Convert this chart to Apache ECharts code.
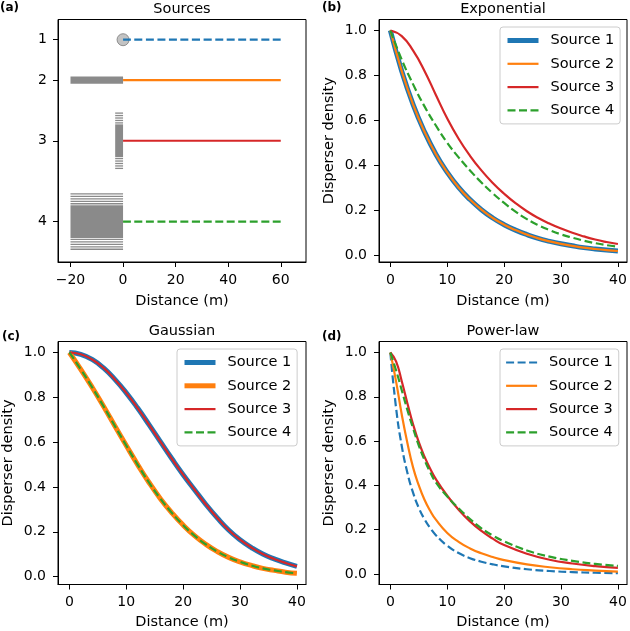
<!DOCTYPE html>
<html><head><meta charset="utf-8">
<script src="https://cdn.jsdelivr.net/npm/echarts@6/dist/echarts.min.js"></script>
<style>html,body{margin:0;padding:0;background:#fff}#c{width:630px;height:631px}</style>
</head><body><div id="c"></div>
<script>
// ---------- data ----------
const sourceLabels = ['1', '2', '3', '4'];
const sourceRows = [0, 1, 2.5, 4.5];
const dispersalLineX = [0, 60];
const sourceFootprintX = [[0, 0], [-20, 0], [-3, 0], [-20, 0]];
const sourceFootprintHalfH = [0, 0.09, 0.7, 0.7];
const sourcesXTicks = [-20, 0, 20, 40, 60];

const legendNames = ['Source 1', 'Source 2', 'Source 3', 'Source 4'];
const distTicks = [0, 10, 20, 30, 40];
const densityTicks = [0, 0.2, 0.4, 0.6, 0.8, 1.0];

const distGrid = [0, 2, 4, 6, 8, 10, 12, 14, 16, 18, 20, 22, 24, 26, 28, 30, 32, 34, 36, 38, 40];
const expS1 = [1, 0.819, 0.670, 0.549, 0.449, 0.368, 0.301, 0.247, 0.202, 0.165, 0.135, 0.111, 0.091, 0.074, 0.061, 0.050, 0.041, 0.033, 0.027, 0.022, 0.018];
const expS2 = [1, 0.819, 0.670, 0.549, 0.449, 0.368, 0.301, 0.247, 0.202, 0.165, 0.135, 0.111, 0.091, 0.074, 0.061, 0.050, 0.041, 0.033, 0.027, 0.022, 0.018];
const expS3 = [1, 0.975, 0.91, 0.82, 0.713, 0.608, 0.518, 0.442, 0.377, 0.321, 0.273, 0.231, 0.195, 0.165, 0.14, 0.118, 0.099, 0.083, 0.069, 0.058, 0.049];
const expS4 = [1, 0.87, 0.76, 0.662, 0.577, 0.5, 0.435, 0.377, 0.323, 0.275, 0.232, 0.193, 0.16, 0.133, 0.111, 0.092, 0.077, 0.064, 0.053, 0.044, 0.037];

const gauS1 = [1, 0.992, 0.969, 0.931, 0.88, 0.82, 0.752, 0.678, 0.602, 0.527, 0.455, 0.388, 0.322, 0.262, 0.208, 0.165, 0.13, 0.101, 0.079, 0.061, 0.046];
const gauS2 = [1, 0.925, 0.845, 0.76, 0.672, 0.585, 0.5, 0.42, 0.348, 0.285, 0.23, 0.183, 0.144, 0.112, 0.086, 0.066, 0.05, 0.037, 0.028, 0.02, 0.015];
const gauS3 = [1, 0.992, 0.969, 0.931, 0.88, 0.82, 0.752, 0.678, 0.602, 0.527, 0.455, 0.388, 0.322, 0.262, 0.208, 0.165, 0.13, 0.101, 0.079, 0.061, 0.046];
const gauS4 = [1, 0.925, 0.845, 0.76, 0.672, 0.585, 0.5, 0.42, 0.348, 0.285, 0.23, 0.183, 0.144, 0.112, 0.086, 0.066, 0.05, 0.037, 0.028, 0.02, 0.015];

const plDist = [0, 1, 2, 3, 4, 5, 6, 7, 8, 10, 12, 14, 16, 18, 20, 24, 28, 32, 36, 40];
const plS1 = [1, 0.75, 0.578, 0.456, 0.366, 0.298, 0.247, 0.207, 0.175, 0.127, 0.094, 0.071, 0.055, 0.043, 0.034, 0.021, 0.013, 0.008, 0.005, 0.003];
const plS2 = [1, 0.87, 0.72, 0.59, 0.48, 0.4, 0.335, 0.285, 0.245, 0.185, 0.145, 0.115, 0.093, 0.076, 0.062, 0.043, 0.03, 0.021, 0.015, 0.01];
const plS3 = [1, 0.96, 0.87, 0.77, 0.675, 0.595, 0.53, 0.475, 0.428, 0.353, 0.29, 0.237, 0.194, 0.159, 0.13, 0.091, 0.064, 0.047, 0.035, 0.027];
const plS4 = [1, 0.92, 0.83, 0.74, 0.657, 0.58, 0.515, 0.46, 0.413, 0.35, 0.296, 0.248, 0.206, 0.173, 0.147, 0.106, 0.078, 0.059, 0.045, 0.036];

// ---------- styling ----------
const FONT = 'DejaVu Sans';
const FS = 14.5, TICK_FS = 14;
const C = { blue: '#1f77b4', orange: '#ff7f0e', red: '#d62728', green: '#2ca02c', grey: '#8a8a8a' };
const DASH = [8, 3.5];
const TW = 2.2, THICK = 5;

function pairs(xs, ys) { return xs.map((x, i) => [x, ys[i]]); }
function minus(v) { return v < 0 ? '\u2212' + Math.abs(v) : String(v); }

const txt = { color: '#000', fontSize: TICK_FS, fontFamily: FONT };
const nameTxt = { color: '#000', fontSize: FS, fontFamily: FONT };

const gridDefs = [
  { left: 58, top: 19.5, width: 248, height: 242.5 },
  { left: 379, top: 19.5, width: 248, height: 242.5 },
  { left: 58, top: 341.5, width: 248, height: 243 },
  { left: 379, top: 341.5, width: 248, height: 243 }
].map(g => Object.assign({ show: true, borderColor: '#000', borderWidth: 1, backgroundColor: 'transparent', containLabel: false, outerBoundsMode: 'none' }, g));

function xAxisDef(gi, min, max, ticks, nameGap) {
  return {
    gridIndex: gi, type: 'value', min, max, splitLine: { show: false },
    axisLine: { show: true, onZero: false, lineStyle: { color: '#000', width: 1 } },
    axisTick: { show: true, length: 5, customValues: ticks, lineStyle: { color: '#000', width: 1 } },
    axisLabel: { customValues: ticks, formatter: minus, margin: 11, ...txt },
    name: 'Distance (m)', nameLocation: 'middle', nameGap, nameTextStyle: nameTxt
  };
}
function densityY(gi, min, max) {
  return {
    gridIndex: gi, type: 'value', min, max, splitLine: { show: false },
    axisLine: { show: true, onZero: false, lineStyle: { color: '#000', width: 1 } },
    axisTick: { show: true, length: 5, customValues: densityTicks, lineStyle: { color: '#000', width: 1 } },
    axisLabel: { customValues: densityTicks, formatter: v => Number(v).toFixed(1), margin: 12, ...txt },
    name: 'Disperser density', nameLocation: 'middle', nameGap: 42, nameRotate: 90, nameTextStyle: nameTxt
  };
}

function lineSeries(name, xs, ys, color, width, dashed, gi, z) {
  return {
    type: 'line', name, xAxisIndex: gi, yAxisIndex: gi, data: pairs(xs, ys),
    symbol: 'none', showSymbol: false, smooth: 0.5,
    lineStyle: { color, width, type: dashed ? DASH : 'solid', cap: 'butt', join: 'round' },
    itemStyle: { color }, z, silent: true
  };
}

function legendDef(tag, left, top, widths) {
  return {
    orient: 'vertical', left, top, selectedMode: false,
    data: legendNames.map((n, i) => ({ name: n + '|' + tag, lineStyle: { width: widths[i] } })),
    formatter: n => n.split('|')[0],
    itemWidth: 31, itemHeight: 14, itemGap: 8.3, padding: [6, 6, 6, 5],
    itemStyle: { opacity: 0, borderWidth: 0 },
    backgroundColor: 'rgba(255,255,255,0.8)', borderColor: '#cccccc', borderWidth: 1, borderRadius: 3,
    textStyle: { color: '#000', fontSize: FS, fontFamily: FONT, padding: [0, 0, 0, 7] }
  };
}

// ---------- panel (a) ----------
const panelASeries = [];
panelASeries.push({
  type: 'custom', xAxisIndex: 0, yAxisIndex: 0, z: 1, silent: true,
  data: sourceRows.map((r, i) => [sourceFootprintX[i][0], sourceFootprintX[i][1], r, sourceFootprintHalfH[i]])
    .filter(d => d[3] > 0),
  renderItem: function (params, api) {
    const x0 = api.value(0), x1 = api.value(1), yc = api.value(2), hh = api.value(3);
    const a = api.coord([x0, yc - hh]), b = api.coord([x1, yc + hh]);
    const L = Math.min(a[0], b[0]), R = Math.max(a[0], b[0]);
    const T = Math.min(a[1], b[1]), B = Math.max(a[1], b[1]);
    const W = R - L, H = B - T;
    const ch = [];
    if (hh < 0.3) {
      ch.push({ type: 'rect', shape: { x: L, y: T, width: W, height: H }, style: { fill: C.grey } });
    } else {
      const band = H * 0.21, step = 2.45, th = 1.3;
      ch.push({ type: 'rect', shape: { x: L, y: T + band, width: W, height: H - 2 * band }, style: { fill: C.grey } });
      for (let yy = T; yy < T + band - th; yy += step)
        ch.push({ type: 'rect', shape: { x: L, y: yy, width: W, height: th }, style: { fill: C.grey } });
      for (let yy = B - th; yy > B - band; yy -= step)
        ch.push({ type: 'rect', shape: { x: L, y: yy, width: W, height: th }, style: { fill: C.grey } });
    }
    return { type: 'group', children: ch };
  }
});
panelASeries.push({
  type: 'scatter', xAxisIndex: 0, yAxisIndex: 0, z: 1, silent: true,
  data: sourceRows.map((r, i) => [sourceFootprintX[i][0], r, sourceFootprintHalfH[i]]).filter(d => d[2] === 0).map(d => [d[0], d[1]]),
  symbol: 'circle', symbolSize: 12,
  itemStyle: { color: '#b4b4b4', borderColor: '#7a7a7a', borderWidth: 1 }
});
const aColors = [C.blue, C.orange, C.red, C.green];
const aDash = [true, false, false, true];
sourceRows.forEach((r, i) => {
  panelASeries.push(lineSeries('a' + i, dispersalLineX, dispersalLineX.map(() => r), aColors[i], TW, aDash[i], 0, 3));
});

// ---------- panels b-d ----------
const series = panelASeries.concat([
  lineSeries('Source 1|b', distGrid, expS1, C.blue, THICK, false, 1, 3),
  lineSeries('Source 2|b', distGrid, expS2, C.orange, TW, false, 1, 4),
  lineSeries('Source 3|b', distGrid, expS3, C.red, TW, false, 1, 5),
  lineSeries('Source 4|b', distGrid, expS4, C.green, TW, true, 1, 6),

  lineSeries('Source 1|c', distGrid, gauS1, C.blue, THICK, false, 2, 3),
  lineSeries('Source 2|c', distGrid, gauS2, C.orange, THICK, false, 2, 4),
  lineSeries('Source 3|c', distGrid, gauS3, C.red, TW, false, 2, 5),
  lineSeries('Source 4|c', distGrid, gauS4, C.green, TW, true, 2, 6),

  lineSeries('Source 1|d', plDist, plS1, C.blue, TW, true, 3, 3),
  lineSeries('Source 2|d', plDist, plS2, C.orange, TW, false, 3, 4),
  lineSeries('Source 3|d', plDist, plS3, C.red, TW, false, 3, 5),
  lineSeries('Source 4|d', plDist, plS4, C.green, TW, true, 3, 6)
]);

const yA = {
  gridIndex: 0, type: 'value', inverse: true, min: -0.5, max: 5.5, splitLine: { show: false },
  axisLine: { show: true, onZero: false, lineStyle: { color: '#000', width: 1 } },
  axisTick: { show: true, length: 5, customValues: sourceRows, lineStyle: { color: '#000', width: 1 } },
  axisLabel: {
    customValues: sourceRows, margin: 11, ...txt,
    formatter: v => {
      let best = 0;
      sourceRows.forEach((r, i) => { if (Math.abs(r - v) < Math.abs(sourceRows[best] - v)) best = i; });
      return sourceLabels[best];
    }
  }
};

function label(text, x, y) {
  return { type: 'text', x, y, silent: true,
    style: { text, fill: '#000', fontSize: FS, fontFamily: FONT, align: 'center', verticalAlign: 'middle' } };
}
function panelTag(text, x, y) {
  return { type: 'text', x, y, silent: true,
    style: { text, fill: '#000', fontSize: 12, fontWeight: 'bold', fontFamily: FONT, align: 'left', verticalAlign: 'middle' } };
}

const option = {
  animation: false,
  backgroundColor: '#fff',
  grid: gridDefs,
  xAxis: [
    xAxisDef(0, -24.75, 69.6, sourcesXTicks, 32),
    xAxisDef(1, -2, 41.6, distTicks, 32),
    xAxisDef(2, -2, 41.6, distTicks, 30),
    xAxisDef(3, -2, 41.6, distTicks, 30)
  ],
  yAxis: [yA, densityY(1, -0.031, 1.049), densityY(2, -0.035, 1.049), densityY(3, -0.048, 1.05)],
  legend: [
    legendDef('b', 500, 27, [THICK, TW, TW, TW]),
    legendDef('c', 177, 349, [THICK, THICK, TW, TW]),
    legendDef('d', 500, 349, [TW, TW, TW, TW])
  ],
  series,
  graphic: { elements: [
    label('Sources', 182, 9),
    label('Exponential', 503, 9),
    label('Gaussian', 182, 331.5),
    label('Power-law', 503, 331.5),
    panelTag('(a)', 0, 7.5),
    panelTag('(b)', 322, 7.5),
    panelTag('(c)', 2, 336.5),
    panelTag('(d)', 322, 336.5)
  ] }
};

const chart = echarts.init(document.getElementById('c'), null, { renderer: 'canvas', width: 630, height: 631 });
chart.setOption(option);
</script>
</body></html>
